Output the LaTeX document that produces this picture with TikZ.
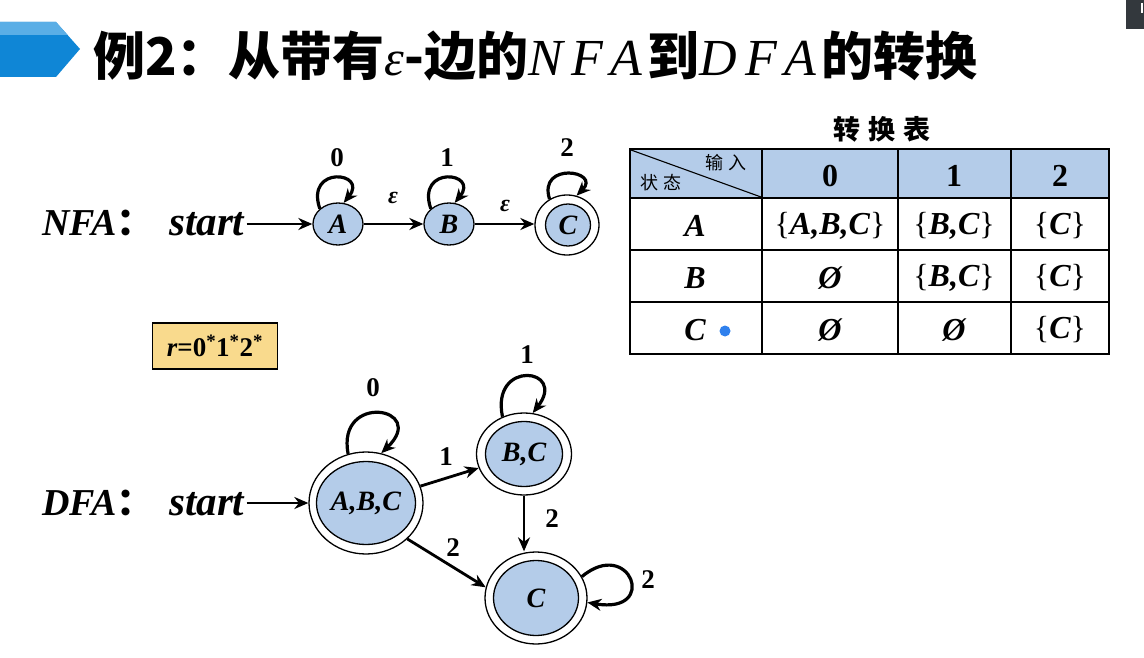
\documentclass[tikz,border=0pt]{standalone}
\usepackage{fontspec}
\setmainfont{Liberation Serif}
\newfontfamily\cjk{Noto Sans CJK SC}
\usetikzlibrary{shapes.geometric,arrows.meta}
\definecolor{nodeblue}{HTML}{B4CCE9}
\definecolor{hdrblue}{HTML}{B4CCE9}
\definecolor{rboxfill}{HTML}{F9DA8D}
\definecolor{banA}{HTML}{5AAEE6}
\definecolor{banB}{HTML}{0F86D6}
\definecolor{dotblue}{HTML}{2F80ED}
\definecolor{cornerdark}{HTML}{33383D}
\newcommand{\fs}[1]{\fontsize{#1}{#1}\selectfont}
\newcommand{\lsp}{\hspace{8pt}}
\begin{document}
\begin{tikzpicture}[x=1pt,y=-1pt,
  stin/.style={ellipse,draw,line width=1.3pt,fill=nodeblue,inner sep=0pt,font=\fs{28}\bfseries\itshape},
  stout/.style={ellipse,draw,line width=1.3pt,fill=white,inner sep=0pt},
  edgearrow/.style={line width=2.8pt,-{Stealth[length=14pt,width=12pt]}},
  looparrow/.style={line width=3.2pt,-{Stealth[length=14pt,width=12pt]}},
  lbl/.style={font=\fs{27}\bfseries,inner sep=0pt},
  eps/.style={font=\fs{24}\bfseries\itshape,inner sep=0pt},
  big/.style={font=\fs{38}\bfseries\itshape,inner sep=0pt},
  cell/.style={font=\fs{32}\bfseries\itshape,inner sep=0pt},
  hcell/.style={font=\fs{32}\bfseries,inner sep=0pt},
  tline/.style={line width=1.3pt}
]
\useasboundingbox (0,0) rectangle (1144,658);
\fill[white] (0,0) rectangle (1144,658);

% banner
\fill[banB] (0,22) -- (56,22) -- (80,49) -- (56,77) -- (0,77) -- cycle;
\fill[banA] (0,22) -- (56,22) -- (67.6,35) -- (0,35) -- cycle;
\fill[cornerdark] (1126,0) rectangle (1144,29);
\fill[white] (1141,3) rectangle (1143,13);

% title
\node[anchor=west,inner sep=0pt,font=\fs{52}] (title) at (93,56)
  {{\cjk\bfseries 例2：从带有}{\fs{50}\itshape ε}{\cjk\bfseries -边的}{\fs{52}\itshape N\lsp F\lsp A}\hspace{5pt}{\cjk\bfseries 到}{\fs{52}\itshape D\lsp F\lsp A}\hspace{5pt}{\cjk\bfseries 的转换}};

% NFA
\node[big,anchor=base west] (nfalab) at (42,235) {NFA{\cjk\upshape\bfseries ：}};
\node[big,font=\fs{41}\bfseries\itshape,anchor=base west] (nstart) at (169,235) {start};
\node[stin,minimum width=50pt,minimum height=42pt] (A) at (338,224) {A};
\node[stin,minimum width=50pt,minimum height=42pt] (B) at (449,224) {B};
\node[stout,minimum width=64pt,minimum height=60pt] (Co) at (567,225) {};
\node[stin,minimum width=45pt,minimum height=42pt] (C) at (568,225) {C};
\draw[edgearrow] (nstart.east |- A.west) ++(2,0) coordinate (ns) (ns) -- (A.west);
\draw[edgearrow] (A.east) -- (B.west);
\draw[edgearrow] (B.east) -- (B.east -| Co.west);
\node[eps] (e1) at (393,198) {ε};
\node[eps] (e2) at (505,206) {ε};
\draw[looparrow] (A.140) .. controls +(-15,-44) and +(25,-31) .. (A.75);
\draw[looparrow] (B.140) .. controls +(-15,-44) and +(25,-31) .. (B.75);
\draw[looparrow] (Co.124) .. controls +(-12,-38) and +(25,-25) .. (Co.72);
\node[lbl] (l0) at (337,158) {0};
\node[lbl] (l1) at (447,158) {1};
\node[lbl] (l2) at (567,148) {2};

% table
\node[font=\cjk\bfseries\fs{27},inner sep=0pt] (ttitle) at (882,129) {转\hspace{8pt}换\hspace{8pt}表};
\fill[hdrblue] (630,149) rectangle (1109,198);
\draw[tline] (630,149) rectangle (1109,354);
\foreach \yy in {198,250,302} \draw[tline] (630,\yy) -- (1109,\yy);
\foreach \xx in {762,898,1011} \draw[tline] (\xx,149) -- (\xx,354);
\draw[line width=1.1pt] (631,150) -- (761,197);
\node[font=\cjk\fs{18},inner sep=0pt] (tin) at (726,163) {输\hspace{5pt}入};
\node[font=\cjk\fs{18},inner sep=0pt] (tst) at (661,183) {状\hspace{5pt}态};
\node[hcell] (h0) at (830,176) {0};
\node[hcell] (h1) at (954,176) {1};
\node[hcell] (h2) at (1060,176) {2};
\node[cell] (rA) at (695,226) {A};
\node[cell] (rB) at (695,278) {B};
\node[cell] (rC) at (695,330) {C};
\node[cell] (a0) at (830,226) {{\upshape\mdseries\{}A,B,C{\upshape\mdseries\}}};
\node[cell] (a1) at (954,226) {{\upshape\mdseries\{}B,C{\upshape\mdseries\}}};
\node[cell] (a2) at (1060,226) {{\upshape\mdseries\{}C{\upshape\mdseries\}}};
\node[cell] (b0) at (830,278) {Ø};
\node[cell] (b1) at (954,278) {{\upshape\mdseries\{}B,C{\upshape\mdseries\}}};
\node[cell] (b2) at (1060,278) {{\upshape\mdseries\{}C{\upshape\mdseries\}}};
\node[cell] (c0) at (830,330) {Ø};
\node[cell] (c1) at (954,330) {Ø};
\node[cell] (c2) at (1060,330) {{\upshape\mdseries\{}C{\upshape\mdseries\}}};
\node[circle,fill=dotblue,inner sep=0pt,minimum size=11pt] (dot) at (725,331) {};

% r box
\node[draw,line width=1.5pt,fill=rboxfill,minimum width=125pt,minimum height=46pt,inner sep=0pt,font=\fs{27}\bfseries] (rbox) at (215,346)
  {{\itshape r}=0\textsuperscript{*}1\textsuperscript{*}2\textsuperscript{*}};

% DFA
\node[big,anchor=base west] (dfalab) at (42,515) {DFA{\cjk\upshape\bfseries ：}};
\node[big,font=\fs{41}\bfseries\itshape,anchor=base west] (dstart) at (169,515) {start};
\node[stout,minimum width=114pt,minimum height=102pt] (abcO) at (366,503) {};
\node[stin,minimum width=95pt,minimum height=83pt] (abc) at (366,503) {A,B,C};
\node[stout,minimum width=95pt,minimum height=82pt] (bcO) at (524,454) {};
\node[stin,minimum width=77pt,minimum height=65pt] (bc) at (524,454) {B,C};
\node[stout,minimum width=102pt,minimum height=92pt] (cO) at (536,598) {};
\node[stin,minimum width=85pt,minimum height=75pt] (cc) at (536,598) {C};
\draw[edgearrow] (dstart.east |- abcO.west) ++(2,0) coordinate (ds) (ds) -- (abcO.west);
\draw[edgearrow] (abcO) -- (bcO);
\draw[edgearrow] (abcO.-41) -- (cO.168);
\draw[edgearrow] (bcO.south) -- (bcO.south |- cO.north);
\draw[looparrow] (abcO.110) .. controls +(-12,-62) and +(48,-46) .. (abcO.73);
\draw[looparrow] (bcO.120) .. controls +(-12,-58) and +(35,-45) .. (bcO.78);
\draw[looparrow] (cO.25) .. controls +(48,-40) and +(72,12) .. (cO.-5);
\node[lbl] (d0) at (373,388) {0};
\node[lbl] (d1) at (527,355) {1};
\node[lbl] (d1e) at (446,457) {1};
\node[lbl] (d2a) at (552,519) {2};
\node[lbl] (d2b) at (453,548) {2};
\node[lbl] (d2c) at (648,580) {2};
\end{tikzpicture}
\end{document}
